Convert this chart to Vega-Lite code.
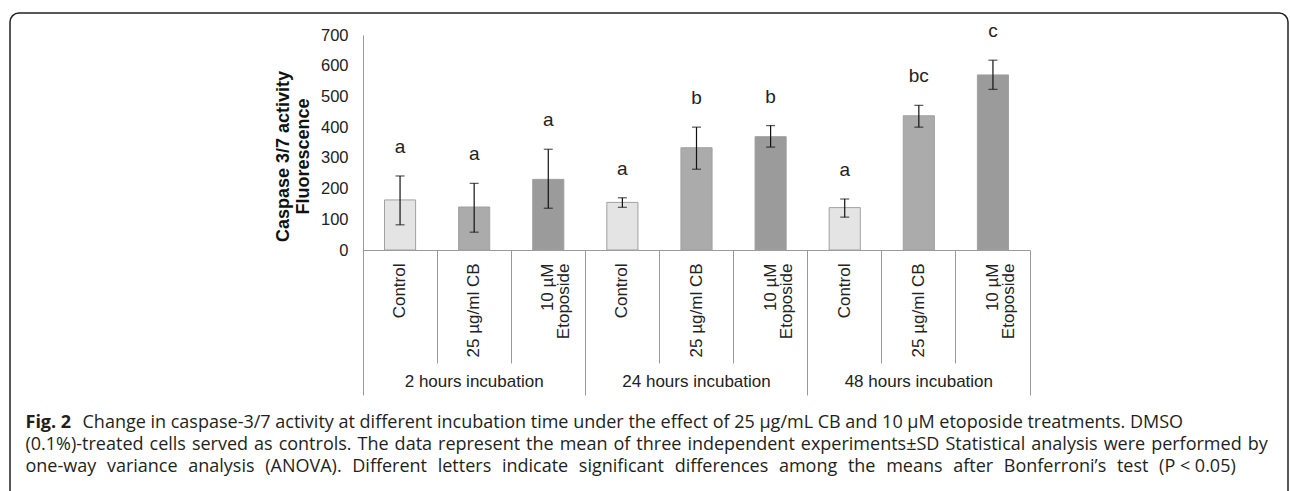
{
  "$schema": "https://vega.github.io/schema/vega-lite/v6.json",
  "width": 1278,
  "height": 493,
  "autosize": "none",
  "padding": {"left": 10, "top": 13, "right": 2, "bottom": -15},
  "background": "white",
  "config": {
    "view": {"stroke": "#222222", "strokeWidth": 1.5, "cornerRadius": 9},
    "font": "Liberation Sans",
    "axisY": {
      "orient": "left", "offset": -353, "grid": false,
      "values": [0, 100, 200, 300, 400, 500, 600, 700],
      "ticks": false, "domainColor": "#9a9a9a", "domainWidth": 1,
      "labelFontSize": 16.5, "labelColor": "#222222", "labelPadding": 15,
      "labelFont": "Liberation Sans",
      "titleFont": "Liberation Sans", "titleFontSize": 18, "titleFontWeight": "bold",
      "titleColor": "#111111", "titleAngle": -90, "titleX": -80, "titleY": 143,
      "titleAlign": "center", "titleBaseline": "middle", "titleLineHeight": 20
    },
    "axisX": {
      "titleFont": "Open Sans", "titleFontSize": 18, "titleColor": "#231f20",
      "titleFontWeight": "normal", "titleAngle": 0, "titleAlign": "left",
      "titleBaseline": "alphabetic", "titleLimit": 2000, "titleLineHeight": 22
    }
  },
  "data": {
    "values": [
      {"id": "2 hours incubation|Control", "treatment": "Control", "mean": 163, "lo": 82, "hi": 241, "letter": "a"},
      {"id": "2 hours incubation|25 µg/ml CB", "treatment": "CB", "mean": 140, "lo": 58, "hi": 217, "letter": "a"},
      {"id": "2 hours incubation|10 µM|Etoposide", "treatment": "Etoposide", "mean": 230, "lo": 136, "hi": 328, "letter": "a"},
      {"id": "24 hours incubation|Control", "treatment": "Control", "mean": 155, "lo": 139, "hi": 170, "letter": "a"},
      {"id": "24 hours incubation|25 µg/ml CB", "treatment": "CB", "mean": 333, "lo": 263, "hi": 400, "letter": "b"},
      {"id": "24 hours incubation|10 µM|Etoposide", "treatment": "Etoposide", "mean": 369, "lo": 335, "hi": 405, "letter": "b"},
      {"id": "48 hours incubation|Control", "treatment": "Control", "mean": 138, "lo": 107, "hi": 166, "letter": "a"},
      {"id": "48 hours incubation|25 µg/ml CB", "treatment": "CB", "mean": 437, "lo": 400, "hi": 471, "letter": "bc"},
      {"id": "48 hours incubation|10 µM|Etoposide", "treatment": "Etoposide", "mean": 570, "lo": 523, "hi": 618, "letter": "c"}
    ]
  },
  "resolve": {"axis": {"x": "independent"}},
  "layer": [
    {
      "mark": {"type": "bar", "width": {"band": 0.42}, "stroke": "#a0a0a0", "strokeWidth": 1},
      "encoding": {
        "x": {
          "field": "id", "type": "nominal", "sort": null,
          "scale": {"type": "band", "range": [353, 1020], "paddingInner": 0, "paddingOuter": 0},
          "axis": {
            "orient": "bottom", "offset": -256, "title": null, "grid": false,
            "domain": true, "domainColor": "#9a9a9a", "domainWidth": 1,
            "ticks": false,
            "labelExpr": "slice(split(datum.value, '|'), 1)",
            "labelAngle": -90, "labelAlign": "right", "labelBaseline": "middle",
            "labelPadding": 13, "labelFontSize": 17, "labelLineHeight": 16,
            "labelColor": "#222222", "labelFont": "Liberation Sans",
            "labelLimit": 400, "labelOverlap": false
          }
        },
        "y": {
          "field": "mean", "type": "quantitative",
          "scale": {"domain": [0, 700], "range": [237, 22], "nice": false},
          "axis": {"title": ["Caspase 3/7 activity", "Fluorescence"]}
        },
        "color": {
          "field": "treatment", "type": "nominal",
          "scale": {"domain": ["Control", "CB", "Etoposide"], "range": ["#e4e4e4", "#ababab", "#9b9b9b"]},
          "legend": null
        }
      }
    },
    {
      "mark": {"type": "rule", "color": "#111111", "strokeWidth": 1.2},
      "encoding": {
        "x": {
          "field": "id", "type": "nominal", "sort": null,
          "scale": {"type": "band", "range": [353, 1020], "paddingInner": 0, "paddingOuter": 0},
          "axis": {
            "orient": "bottom", "offset": -256, "grid": false,
            "domain": false, "labels": false, "ticks": true, "tickSize": 113,
            "tickColor": "#9a9a9a", "tickWidth": 1, "bandPosition": 0,
            "title": "Fig. 2", "titleFontWeight": "bold", "titleX": 15, "titleY": 177
          }
        },
        "y": {"field": "lo", "type": "quantitative", "axis": {"title": ["Caspase 3/7 activity", "Fluorescence"]}},
        "y2": {"field": "hi"}
      }
    },
    {
      "mark": {"type": "tick", "color": "#111111", "size": 9, "thickness": 1.2},
      "encoding": {
        "x": {
          "field": "id", "type": "nominal", "sort": null,
          "scale": {"type": "band", "range": [353, 1020], "paddingInner": 0, "paddingOuter": 0},
          "axis": {
            "orient": "bottom", "offset": -256, "grid": false,
            "domain": false, "labels": false, "ticks": true, "tickSize": 145,
            "tickColor": "#9a9a9a", "tickWidth": 1, "bandPosition": 1,
            "values": ["2 hours incubation|10 µM|Etoposide", "24 hours incubation|10 µM|Etoposide", "48 hours incubation|10 µM|Etoposide"],
            "title": "Change in caspase-3/7 activity at different incubation time under the effect of 25 µg/mL CB and 10 µM etoposide treatments. DMSO",
            "titleX": 72, "titleY": 177
          }
        },
        "y": {"field": "hi", "type": "quantitative", "axis": {"title": ["Caspase 3/7 activity", "Fluorescence"]}}
      }
    },
    {
      "mark": {"type": "tick", "color": "#111111", "size": 9, "thickness": 1.2},
      "encoding": {
        "x": {
          "field": "id", "type": "nominal", "sort": null,
          "scale": {"type": "band", "range": [353, 1020], "paddingInner": 0, "paddingOuter": 0},
          "axis": {
            "orient": "bottom", "offset": -256, "grid": false,
            "domain": false, "labels": false, "ticks": true, "tickSize": 145,
            "tickColor": "#9a9a9a", "tickWidth": 1, "bandPosition": 0,
            "values": ["2 hours incubation|Control"],
            "title": [
              "(0.1%)-treated\u2004cells\u2004served\u2004as\u2004controls.\u2004The\u2004data\u2004represent\u2004the\u2004mean\u2004of\u2004three\u2004independent\u2004experiments±SD\u2004Statistical\u2004analysis\u2004were\u2004performed\u2004by",
              "one-way \u2004variance \u2004analysis \u2004(ANOVA). \u2004Different \u2004letters \u2004indicate \u2004significant \u2004differences \u2004among \u2004the \u2004means \u2004after \u2004Bonferroni’s \u2004test \u2004(P < 0.05)"
            ],
            "titleX": 15, "titleY": 199
          }
        },
        "y": {"field": "lo", "type": "quantitative", "axis": {"title": ["Caspase 3/7 activity", "Fluorescence"]}}
      }
    },
    {
      "mark": {"type": "text", "dy": -29, "fontSize": 19, "font": "Liberation Sans", "color": "#222222", "baseline": "middle"},
      "encoding": {
        "x": {
          "field": "id", "type": "nominal", "sort": null,
          "scale": {"type": "band", "range": [353, 1020], "paddingInner": 0, "paddingOuter": 0},
          "axis": {
            "orient": "bottom", "offset": -256, "title": null, "grid": false,
            "domain": false, "ticks": false,
            "values": ["2 hours incubation|25 µg/ml CB", "24 hours incubation|25 µg/ml CB", "48 hours incubation|25 µg/ml CB"],
            "labelExpr": "split(datum.value, '|')[0]",
            "labelAngle": 0, "labelAlign": "center", "labelBaseline": "top",
            "labelPadding": 123, "labelFontSize": 17, "labelColor": "#222222",
            "labelFont": "Liberation Sans", "labelLimit": 400, "labelOverlap": false
          }
        },
        "y": {"field": "hi", "type": "quantitative", "axis": {"title": ["Caspase 3/7 activity", "Fluorescence"]}},
        "text": {"field": "letter"}
      }
    }
  ]
}
